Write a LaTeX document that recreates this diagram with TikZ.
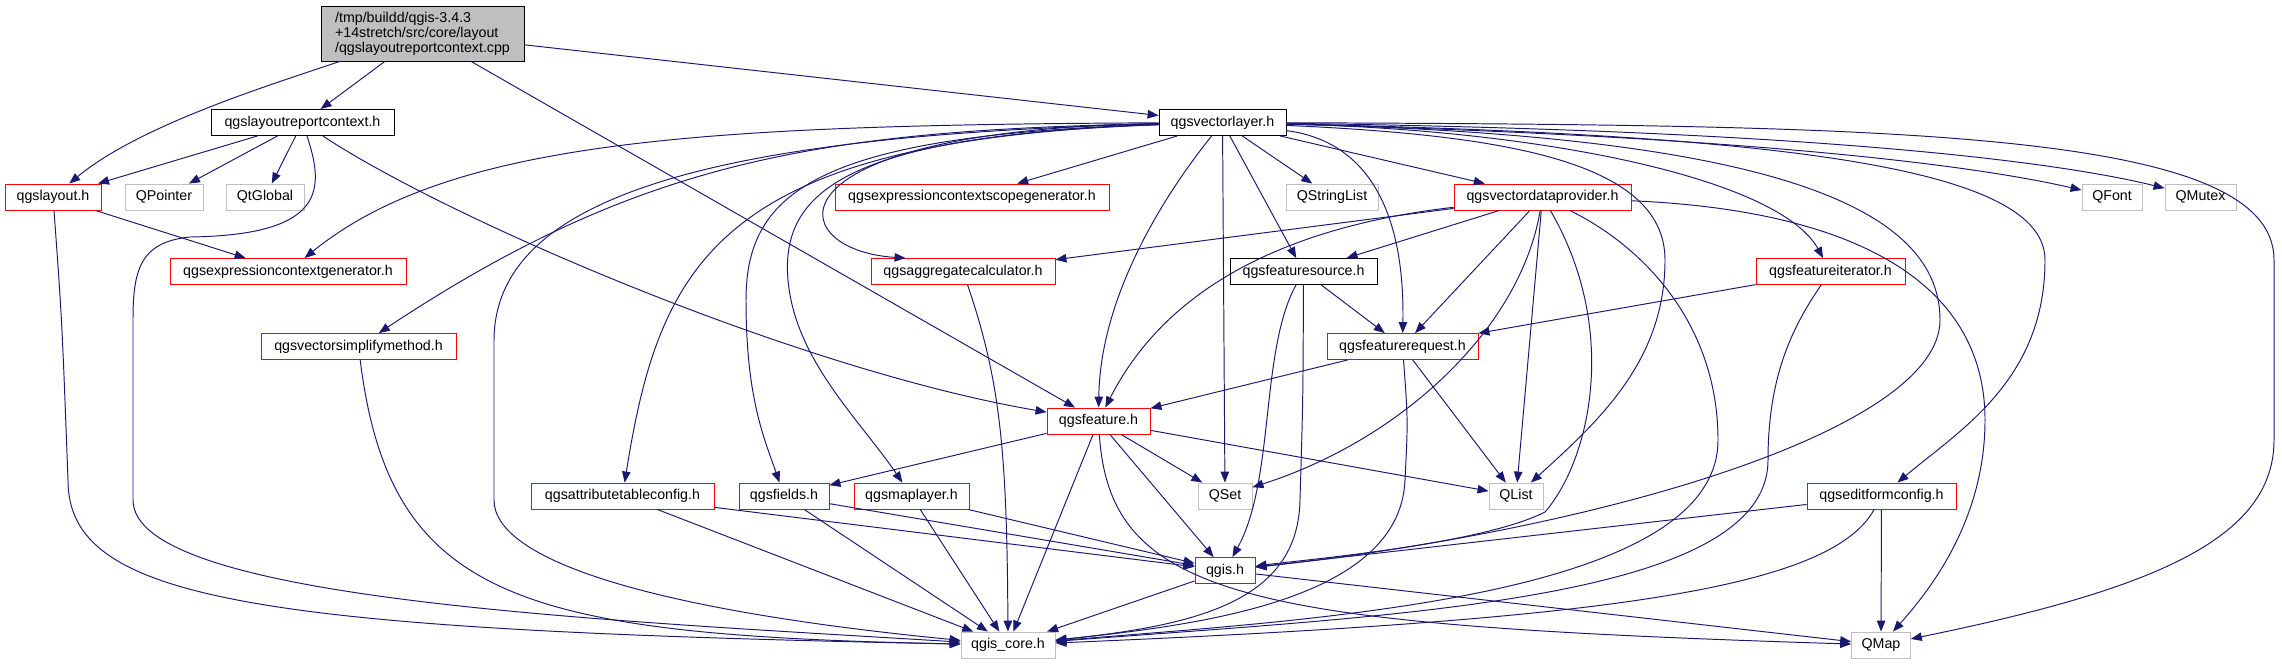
\documentclass[tikz,border=0pt]{standalone}
\usepackage{fontspec}
\setmainfont{Liberation Sans}
\usepackage{tikz}
\usetikzlibrary{arrows.meta,calc}
\definecolor{edgeblue}{HTML}{191970}
\definecolor{boxred}{HTML}{FF0000}
\definecolor{boxgrey}{HTML}{BFBFBF}
\definecolor{srcfill}{HTML}{BFBFBF}
\tikzset{
  file/.style={draw=black,fill=white,line width=0.5pt,font=\fontsize{8.1}{8.6}\selectfont,
    inner xsep=0.2cm,inner ysep=0pt,minimum height=0.52cm,minimum width=#1},
  file/.default=1cm,
  redfile/.style={file=#1,draw=boxred},
  redfile/.default=1cm,
  sysfile/.style={file=#1,draw=boxgrey},
  sysfile/.default=1cm,
  srcfile/.style={file=4.06cm,fill=srcfill,align=left,minimum height=1.1cm},
  inc/.style={-{Triangle[length=0.22cm,width=0.17cm]},line width=0.55pt,draw=edgeblue},
}

\begin{document}
\begin{tikzpicture}[x=0.02cm,y=-0.02cm]
  \useasboundingbox (0,0) rectangle (2282,664);
  % rows of the include graph
  \node[srcfile] (root) at (422.5,33.5) {/tmp/buildd/qgis-3.4.3\\+14stretch/src/core/layout\\/qgslayoutreportcontext.cpp};
  \node[file=3.66cm] (lrc) at (302.5,122.5) {qgslayoutreportcontext.h};
  \node[file=2.54cm] (vl) at (1222.5,122.5) {qgsvectorlayer.h};
  \node[redfile=1.92cm] (layout) at (53,197) {qgslayout.h};
  \node[sysfile=1.56cm] (QPointer) at (164,197) {QPointer};
  \node[sysfile=1.56cm] (QtGlobal) at (265,197) {QtGlobal};
  \node[redfile=5.48cm] (scopegen) at (972,197) {qgsexpressioncontextscopegenerator.h};
  \node[sysfile=1.84cm] (QStringList) at (1332,197) {QStringList};
  \node[redfile=3.54cm] (vdp) at (1542.5,197) {qgsvectordataprovider.h};
  \node[sysfile=1.2cm] (QFont) at (2112,197) {QFont};
  \node[sysfile=1.42cm] (QMutex) at (2200.5,197) {QMutex};
  \node[redfile=4.72cm] (ecg) at (288,271.5) {qgsexpressioncontextgenerator.h};
  \node[redfile=3.68cm] (aggcalc) at (963,271.5) {qgsaggregatecalculator.h};
  \node[file=2.94cm] (fsource) at (1303.5,271.5) {qgsfeaturesource.h};
  \node[redfile=2.98cm] (fiter) at (1830.5,271.5) {qgsfeatureiterator.h};
  \node[redfile=3.9cm] (simplify) at (358.5,346.5) {qgsvectorsimplifymethod.h};
  \node[redfile=3.02cm] (freq) at (1402.5,346.5) {qgsfeaturerequest.h};
  \node[redfile=2.06cm] (feature) at (1098.5,421) {qgsfeature.h};
  \node[redfile=3.66cm] (attrtable) at (622.5,496) {qgsattributetableconfig.h};
  \node[redfile=1.8cm] (fields) at (784,496) {qgsfields.h};
  \node[redfile=2.3cm] (maplayer) at (911.5,496) {qgsmaplayer.h};
  \node[sysfile=1.08cm] (QSet) at (1225,496) {QSet};
  \node[sysfile=1.08cm] (QList) at (1516,496) {QList};
  \node[redfile=2.98cm] (editform) at (1881.5,496) {qgseditformconfig.h};
  \node[redfile=1.2cm] (qgis) at (1225,570.5) {qgis.h};
  \node[sysfile=1.88cm] (core) at (1008,645) {qgis\_core.h};
  \node[sysfile=1.16cm] (QMap) at (1881,645) {QMap};

  % source file
  \draw[inc] (root) .. controls (270,85) and (140,125) .. (layout);
  \draw[inc] (root) -- (lrc);
  \draw[inc] (root) -- (feature);
  \draw[inc] (root) -- (vl);
  % qgslayoutreportcontext.h
  \draw[inc] (lrc) -- (layout);
  \draw[inc] (lrc) -- (QPointer);
  \draw[inc] (lrc) -- (QtGlobal);
  \draw[inc] (lrc) .. controls (450,220) and (800,370) .. (feature);
  \draw[inc] (lrc) .. controls (325,190) and (325,235) .. (190,237) .. controls (140,242) and (133,270) .. (133,320) -- (133,500) .. controls (133,600) and (600,620) .. (core);
  % qgslayout.h
  \draw[inc] (layout) -- (ecg);
  \draw[inc] (layout) .. controls (62,320) .. (68,480) .. controls (68,600) and (250,630) .. (core);
  % qgsvectorlayer.h, left side
  \draw[inc] (vl) .. controls (700,125) and (450,140) .. (ecg);
  \draw[inc] (vl) .. controls (820,130) and (640,160) .. (simplify);
  \draw[inc] (vl) .. controls (720,140) and (660,260) .. (attrtable);
  \draw[inc] (vl) .. controls (700,135) and (495,200) .. (494,340) -- (494,500) .. controls (494,560) and (650,610) .. (core);
  \draw[inc] (vl) .. controls (820,135) and (746,190) .. (746,300) .. controls (746,400) and (765,440) .. (fields);
  \draw[inc] (vl) .. controls (850,135) and (780,190) .. (788,280) .. controls (795,360) and (860,420) .. (maplayer);
  \draw[inc] (vl) .. controls (760,130) and (780,250) .. ($(aggcalc.north west)+(35,0)$);
  \draw[inc] (vl) -- (scopegen);
  \draw[inc] (vl) .. controls (1160,200) and (1100,300) .. (feature);
  \draw[inc] (vl) -- (QSet);
  % qgsvectorlayer.h, right side
  \draw[inc] (vl) -- (fsource);
  \draw[inc] (vl) -- (QStringList);
  \draw[inc] (vl) .. controls (1360,140) and (1405,200) .. (freq);
  \draw[inc] (vl) -- (vdp);
  \draw[inc] (vl) .. controls (1550,130) and (1780,180) .. (fiter);
  \draw[inc] (vl) .. controls (1500,135) and (1665,160) .. (1665,260) .. controls (1665,360) and (1600,420) .. (QList);
  \draw[inc] (vl) .. controls (1750,135) and (1940,200) .. (1940,320) .. controls (1940,430) and (1600,530) .. (qgis);
  \draw[inc] (vl) .. controls (1800,135) and (2045,170) .. (2045,260) .. controls (2045,380) and (1960,430) .. (editform);
  \draw[inc] (vl) .. controls (1700,135) and (1950,160) .. (QFont);
  \draw[inc] (vl) .. controls (1800,130) and (2050,160) .. (QMutex);
  \draw[inc] (vl) .. controls (1900,125) and (2274,130) .. (2274,260) -- (2274,440) .. controls (2274,540) and (2150,590) .. (QMap);
  % qgsvectordataprovider.h
  \draw[inc] (vdp) -- (fsource);
  \draw[inc] (vdp) -- (aggcalc);
  \draw[inc] (vdp) .. controls (1300,225) and (1170,280) .. (feature);
  \draw[inc] (vdp) -- (freq);
  \draw[inc] (vdp) .. controls (1520,330) and (1400,440) .. (QSet);
  \draw[inc] (vdp) -- (QList);
  \draw[inc] (vdp) .. controls (1620,330) and (1590,460) .. (1545,512) .. controls (1480,545) and (1300,560) .. (qgis);
  \draw[inc] (vdp) .. controls (1650,250) and (1718,330) .. (1718,440) .. controls (1718,600) and (1300,620) .. (core);
  \draw[inc] (vdp) .. controls (1850,210) and (1985,280) .. (1985,420) .. controls (1985,520) and (1930,590) .. (QMap);
  % qgsfeatureiterator.h, qgsfeaturesource.h, qgsfeaturerequest.h
  \draw[inc] (fiter) -- (freq);
  \draw[inc] (fiter) .. controls (1790,330) and (1768,380) .. (1768,460) .. controls (1768,600) and (1400,615) .. (core);
  \draw[inc] (fsource) -- (freq);
  \draw[inc] (fsource) .. controls (1260,350) and (1275,480) .. (qgis);
  \draw[inc] (fsource) .. controls (1303,400) .. (1300,500) .. controls (1298,600) and (1200,625) .. (core);
  \draw[inc] (freq) -- (feature);
  \draw[inc] (freq) -- (QList);
  \draw[inc] (freq) .. controls (1408,420) .. (1405,480) .. controls (1400,600) and (1200,625) .. (core);
  % qgsfeature.h
  \draw[inc] (feature) -- (fields);
  \draw[inc] (feature) -- (QSet);
  \draw[inc] (feature) -- (QList);
  \draw[inc] (feature) -- (qgis);
  \draw[inc] (feature) -- (core);
  \draw[inc] (feature) .. controls (1110,600) and (1250,625) .. (QMap);
  % lower rows
  \draw[inc] (fields) -- (qgis);
  \draw[inc] (fields) -- (core);
  \draw[inc] (maplayer) -- (qgis);
  \draw[inc] (maplayer) -- (core);
  \draw[inc] (attrtable) -- (qgis);
  \draw[inc] (attrtable) -- (core);
  \draw[inc] (aggcalc) .. controls (1000,380) and (1007,450) .. (core);
  \draw[inc] (simplify) .. controls (390,600) and (520,635) .. (core);
  \draw[inc] (editform) -- (qgis);
  \draw[inc] (editform) -- (QMap);
  \draw[inc] (editform) .. controls (1830,590) and (1600,620) .. (core);
  \draw[inc] (qgis) -- (core);
  \draw[inc] (qgis) -- (QMap);
\end{tikzpicture}
\end{document}
